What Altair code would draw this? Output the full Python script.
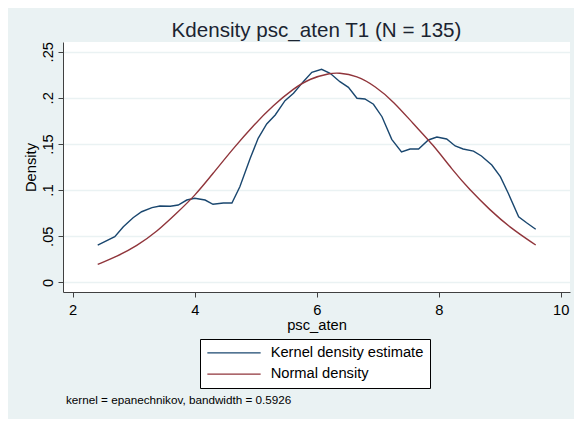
import altair as alt
import pandas as pd

# ---- data ----
kde_x = [2.41, 2.69, 2.83, 2.99, 3.13, 3.30, 3.43, 3.60, 3.73, 3.87, 4.00, 4.17, 4.30,
         4.47, 4.61, 4.74, 4.91, 5.04, 5.18, 5.32, 5.48, 5.62, 5.78, 5.92, 6.08, 6.22,
         6.38, 6.52, 6.66, 6.79, 6.93, 7.07, 7.23, 7.39, 7.53, 7.67, 7.83, 7.97, 8.13,
         8.27, 8.40, 8.57, 8.70, 8.87, 9.01, 9.14, 9.31, 9.44, 9.59]
kde_y = [0.0404, 0.0494, 0.0603, 0.0700, 0.0765, 0.0809, 0.0827, 0.0824, 0.0838, 0.0892,
         0.0911, 0.0892, 0.0846, 0.0860, 0.0860, 0.1036, 0.1344, 0.1561, 0.1716, 0.1814,
         0.1969, 0.2049, 0.2175, 0.2277, 0.2309, 0.2266, 0.2175, 0.2114, 0.1995, 0.1987,
         0.1930, 0.1795, 0.1550, 0.1413, 0.1445, 0.1445, 0.1543, 0.1575, 0.1554, 0.1478,
         0.1445, 0.1423, 0.1369, 0.1272, 0.1145, 0.0965, 0.0711, 0.0646, 0.0575]

norm_x = [2.41, 2.72, 3.05, 3.38, 3.70, 4.00, 4.30, 4.63, 4.96, 5.29, 5.62, 5.89, 6.22,
          6.35, 6.66, 6.96, 7.26, 7.58, 7.91, 8.21, 8.51, 8.84, 9.17, 9.59]
norm_y = [0.0195, 0.0278, 0.0394, 0.0549, 0.0748, 0.0936, 0.1180, 0.1450, 0.1700, 0.1920,
          0.2100, 0.2210, 0.2266, 0.2272, 0.2240, 0.2125, 0.1960, 0.1720, 0.1490, 0.1230,
          0.1000, 0.0784, 0.0592, 0.0404]

series_names = ["Kernel density estimate", "Normal density"]
series_colors = ["#1A476F", "#90353B"]
x_ticks = [2, 4, 6, 8, 10]
y_ticks = [0, 0.05, 0.1, 0.15, 0.2, 0.25]
title_text = "Kdensity psc_aten T1 (N = 135)"
x_title = "psc_aten"
y_title = "Density"
note_text = "kernel = epanechnikov, bandwidth = 0.5926"

FONT = "Liberation Sans"
BG = "#EAF2F3"

df_kde = pd.DataFrame({"x": kde_x, "y": kde_y, "series": series_names[0]})
df_norm = pd.DataFrame({"x": norm_x, "y": norm_y, "series": series_names[1]})

x_enc = alt.X(
    "x:Q",
    scale=alt.Scale(domain=[1.841, 10.152], nice=False, zero=False),
    axis=alt.Axis(values=x_ticks, title=x_title, grid=False, format="d",
                  labelFontSize=14.7, titleFontSize=14.7, labelFont=FONT, titleFont=FONT,
                  labelColor="#000000", titleColor="#000000", titleFontWeight="normal",
                  tickSize=5, labelPadding=5, titlePadding=1,
                  domainColor="#404040", tickColor="#404040", labelFlush=False),
)
y_enc = alt.Y(
    "y:Q",
    scale=alt.Scale(domain=[-0.0105, 0.2605], nice=False, zero=False),
    axis=alt.Axis(values=y_ticks, title=y_title,
                  labelExpr="datum.value == 0 ? '0' : substring(format(datum.value, '.2~f'), 1)",
                  labelAngle=270, labelAlign="center", labelBaseline="alphabetic",
                  labelFontSize=14.7, titleFontSize=14.7, labelFont=FONT, titleFont=FONT,
                  labelColor="#000000", titleColor="#000000", titleFontWeight="normal",
                  tickSize=5, labelPadding=6, titlePadding=2,
                  grid=True, gridColor=BG, gridWidth=1.5,
                  domainColor="#404040", tickColor="#404040", labelFlush=False),
)
color_enc = alt.Color(
    "series:N",
    scale=alt.Scale(domain=series_names, range=series_colors),
    legend=alt.Legend(title=None, orient="none", legendX=137, legendY=297,
                      direction="vertical", symbolType="M-5,0H5", symbolSize=113.6,
                      symbolOffset=20.15, symbolStrokeWidth=1.4,
                      labelFontSize=14.7, labelFont=FONT,
                      labelColor="#000000", labelOffset=29.3, rowPadding=5.3,
                      padding=6.5, strokeColor="#000000", fillColor="#FFFFFF",
                      cornerRadius=0, labelLimit=400),
)

kde_line = alt.Chart(df_kde).mark_line(strokeWidth=1.4, interpolate="linear").encode(
    x=x_enc, y=y_enc, color=color_enc)
norm_line = alt.Chart(df_norm).mark_line(strokeWidth=1.4, interpolate="basis").encode(
    x=x_enc, y=y_enc, color=color_enc)

note = alt.Chart(pd.DataFrame({"t": [note_text]})).mark_text(
    align="left", baseline="alphabetic", fontSize=11.7, font=FONT, color="#000000"
).encode(x=alt.value(3), y=alt.value(362), text="t:N")

chart = alt.layer(kde_line, norm_line, note).properties(
    width=507, height=250,
    padding={"left": 55, "top": 34, "right": 4, "bottom": 127},
    autosize=alt.AutoSizeParams(type="none"),
    title=alt.TitleParams(title_text, fontSize=20.6, font=FONT, fontWeight="normal",
                          color="#1b2431", anchor="middle", frame="group",
                          baseline="alphabetic", offset=-16),
).configure(background=BG).configure_view(fill="#FFFFFF", strokeWidth=0)

chart.save("out.html", embed_options={"renderer": "svg", "actions": False})
